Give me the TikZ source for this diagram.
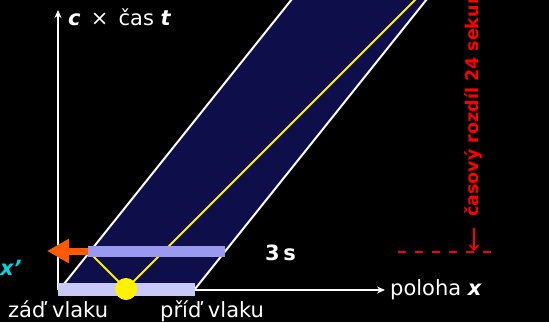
\documentclass[tikz,border=0pt]{standalone}
\usepackage{fontspec}
\setmainfont{DejaVu Sans}
\usetikzlibrary{arrows.meta}
\definecolor{nightblue}{RGB}{14,14,74}
\definecolor{barlight}{RGB}{200,200,250}
\definecolor{bardark}{RGB}{153,153,240}
\definecolor{flame}{RGB}{255,90,0}
\definecolor{primecyan}{RGB}{0,215,225}
\tikzset{
  axis/.style={white, line width=1.8pt, -{Stealth[length=8pt,width=7pt]}},
  worldline/.style={yellow, line width=1.8pt},
  edge/.style={white, line width=2pt},
  label/.style={white, inner sep=0pt, font=\fontsize{21}{25}\selectfont},
}
\begin{document}
\begin{tikzpicture}[x=1pt, y=-1pt]
\fill[black] (0,0) rectangle (549,322);
\useasboundingbox (0,0) rectangle (549,322);

\path (58,290) coordinate (origin);
\path (60,289) coordinate (rear) (195,289) coordinate (front);
\fill[nightblue] (rear) -- ++(240,-300) -- ++(135,0) -- (front) -- cycle;
\draw[edge] (rear) -- ++(240,-300);
\draw[edge] (front) -- ++(240,-300);

\draw[axis] (origin) -- ++(0,-280) coordinate (tend);
\draw[axis] (origin) -- ++(327,0) coordinate (xend);
\node[label, anchor=base west] (time) at (68,25) {\textbf{\textit{c}}\, × \,čas \textbf{\textit{t}}};
\node[label, anchor=base west] (place) at (390,295) {poloha \textbf{\textit{x}}};

%%%%%%%%%%%%%%%%%%%%%%%%%%%%%%%%%%%%%%%%

\path (126,289) coordinate (flash);
\draw[worldline] (flash) -- ++(300,-300);
\draw[worldline] (flash) -- ++(-38,-38) coordinate (bounce);
\draw[flame, line width=7pt, -{Triangle[length=22pt,width=23pt]}] (bounce) -- ++(-41,0) coordinate (away);
\fill[bardark] (88,246) rectangle (225,257);
\fill[barlight] (58,283) rectangle (195,296);
\fill[yellow] (flash) circle (11pt);

\node[label, anchor=base west, text=primecyan] (prime) at (0,275) {\textbf{\textit{x'}}};
\node[label, anchor=base west] (delay) at (265,260) {\textbf{3\,s}};
\node[label, anchor=base west] (rearlabel) at (8,317) {záď vlaku};
\node[label, anchor=base west] (frontlabel) at (160,317) {příď vlaku};

%%%%%%%%%%%%%%%%%%%%%%%%%%%%%%%%%%%%%%%%

\draw[red, line width=1.8pt, dash pattern=on 8pt off 9pt] (398,252) coordinate (dashstart) -- ++(99,0);
\node[red, inner sep=0pt, rotate=90, anchor=base west, font=\bfseries\fontsize{17.5}{21}\selectfont] (gap) at (478,217) {časový rozdíl 24 sekund};
\draw[red, line width=1.5pt, -{Straight Barb[length=5pt,width=9pt]}] (474,228) coordinate (gapfoot) -- ++(0,23);
\end{tikzpicture}
\end{document}
